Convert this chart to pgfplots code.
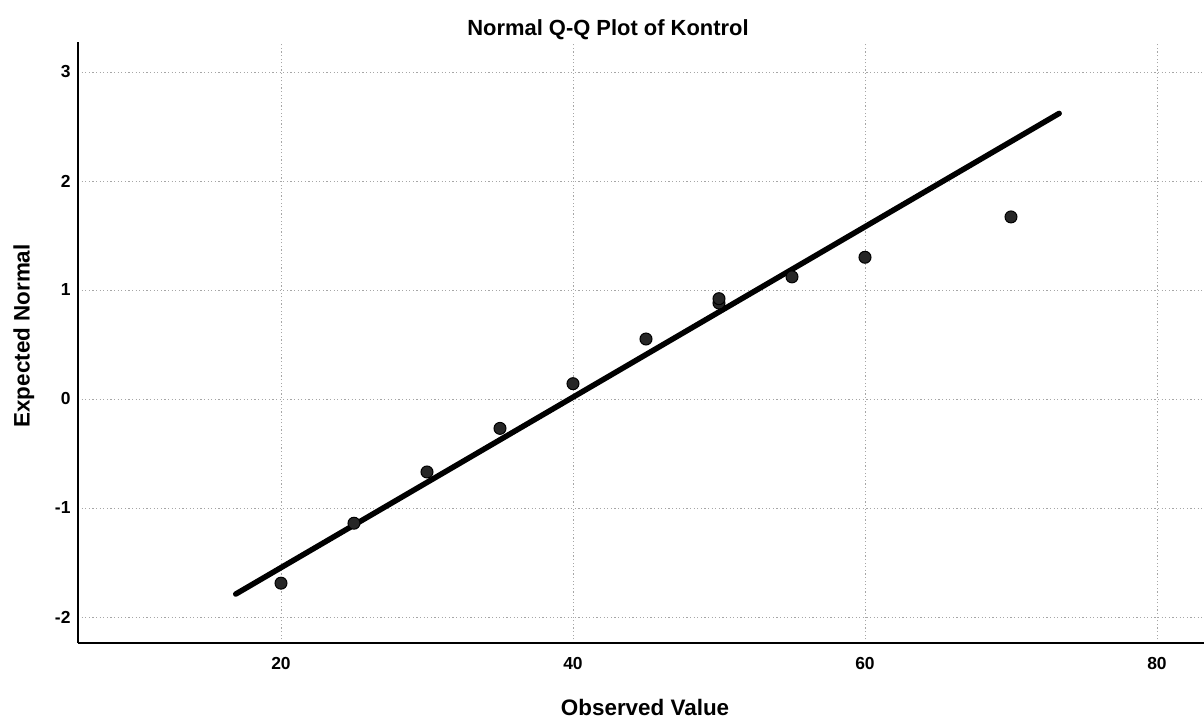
\documentclass[border=0pt]{standalone}
\usepackage{fontspec}
\setmainfont{Liberation Sans}
\usepackage{pgfplots}
\pgfplotsset{compat=1.18}
\begin{document}
\begin{tikzpicture}
\useasboundingbox (0,0) rectangle (1204bp,720bp);
\begin{axis}[
  at={(78bp,77bp)}, anchor=south west,
  scale only axis, width=1126bp, height=601bp,
  xmin=6.096, xmax=83.22, ymin=-2.239, ymax=3.275,
  axis x line*=bottom, axis y line*=left,
  axis line style={line width=1.6bp, black},
  xtick={20,40,60,80}, ytick={-2,-1,0,1,2,3},
  major tick length=0pt,
  grid=major,
  major grid style={color=black!35, line width=0.8bp, dash pattern=on 1.2bp off 2.4bp},
  /pgf/number format/assume math mode=true,
  tick label style={font=\fontsize{17.5}{21}\selectfont\bfseries},
  xticklabel style={yshift=-11bp},
  yticklabel style={xshift=-4bp},
  title={Normal Q-Q Plot of Kontrol},
  title style={at={(axis description cs:0.4707,1.010)}, anchor=center, font=\fontsize{22}{26}\selectfont\bfseries},
  xlabel={Observed Value},
  xlabel style={at={(axis description cs:0.5036,-0.108)}, anchor=center, font=\fontsize{22.5}{27}\selectfont\bfseries},
  ylabel={Expected Normal},
  ylabel style={at={(axis description cs:-0.048,0.511)}, anchor=center, rotate=0, font=\fontsize{22.5}{27}\selectfont\bfseries},
  clip=false,
]
\addplot[black, line width=5.5bp, line cap=round] coordinates {(16.9,-1.79) (73.3,2.62)};
\addplot[only marks, mark=*, mark size=6bp, mark options={fill=black!85, draw=black, line width=1bp}] coordinates {
(20,-1.69) (25,-1.14) (30,-0.67) (35,-0.27) (40,0.14) (45,0.55) (50,0.88) (50,0.92) (55,1.12) (60,1.30) (70,1.67)
};
\end{axis}
\end{tikzpicture}
\end{document}
